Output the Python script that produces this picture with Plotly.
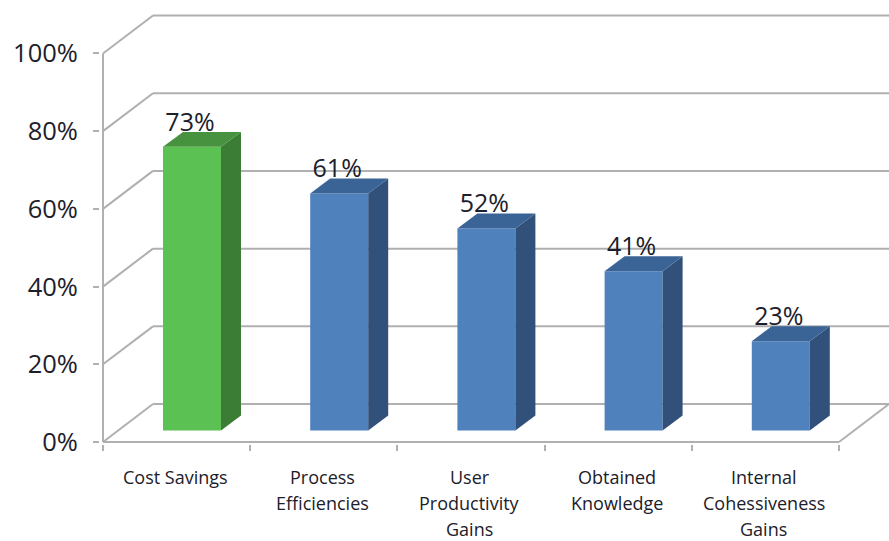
import plotly.graph_objects as go

categories = ["Cost Savings", "Process<br>Efficiencies", "User<br>Productivity<br>Gains",
              "Obtained<br>Knowledge", "Internal<br>Cohessiveness<br>Gains"]
values = [73, 61, 52, 41, 23]
y_ticks = [0, 20, 40, 60, 80, 100]
front_colors = ["#5AC152", "#4F81BD", "#4F81BD", "#4F81BD", "#4F81BD"]
side_colors = ["#3C7D35", "#31517A", "#31517A", "#31517A", "#31517A"]
top_colors = ["#47923F", "#3B6496", "#3B6496", "#3B6496", "#3B6496"]

PX_X = 147.2   # pixels per category
PX_Y = 3.89    # pixels per percent
WALL_X, WALL_Y = 50 / PX_X, 38 / PX_Y
BAR_GAP, BAR_W = 60 / PX_X, 58 / PX_X
BAR_DX, BAR_DY = 20 / PX_X, 15 / PX_Y
LIFT = 11.5 / PX_Y
GRID = "#B0B0B0"
TEXT = "#1C202A"
FONT = "Open Sans"
N = len(categories)
X_MAX = 786 / PX_X

fig = go.Figure()

# Walls: gridlines and axis lines, beneath the bars
line = dict(color=GRID, width=2)
shapes = []
for t in y_ticks:
    shapes.append(dict(type="line", layer="below", xref="x", yref="y", x0=0, y0=t,
                       x1=WALL_X, y1=t + WALL_Y, line=line))
    shapes.append(dict(type="line", layer="below", xref="x", yref="y", x0=WALL_X, y0=t + WALL_Y,
                       x1=X_MAX, y1=t + WALL_Y, line=line))
shapes.append(dict(type="line", layer="below", xref="x", yref="y", x0=0, y0=0, x1=0, y1=100, line=line))
shapes.append(dict(type="line", layer="below", xref="x", yref="y", x0=0, y0=0, x1=N, y1=0, line=line))
shapes.append(dict(type="line", layer="below", xref="x", yref="y", x0=N, y0=0,
                   x1=N + WALL_X, y1=WALL_Y, line=line))

# Bar fronts
fig.add_trace(go.Bar(
    x=[i + BAR_GAP + BAR_W / 2 for i in range(N)], y=values, base=LIFT, width=BAR_W,
    marker=dict(color=front_colors, line=dict(width=0)), hoverinfo="skip", showlegend=False))

# Bar sides and tops
for i, v in enumerate(values):
    x0, x1 = i + BAR_GAP, i + BAR_GAP + BAR_W
    y0, y1 = LIFT, LIFT + v
    fig.add_trace(go.Scatter(
        x=[x1, x1 + BAR_DX, x1 + BAR_DX, x1, x1], y=[y0, y0 + BAR_DY, y1 + BAR_DY, y1, y0],
        mode="lines", fill="toself", fillcolor=side_colors[i], line=dict(width=0),
        hoverinfo="skip", showlegend=False))
    fig.add_trace(go.Scatter(
        x=[x0, x1, x1 + BAR_DX, x0 + BAR_DX, x0], y=[y1, y1, y1 + BAR_DY, y1 + BAR_DY, y1],
        mode="lines", fill="toself", fillcolor=top_colors[i], line=dict(width=0),
        hoverinfo="skip", showlegend=False))

# Value labels
fig.add_trace(go.Scatter(
    x=[i + BAR_GAP + BAR_W / 2 - 2 / PX_X for i in range(N)],
    y=[v + LIFT + BAR_DY - 5 / PX_Y for v in values],
    mode="text", text=[f"{v}%" for v in values], textposition="top center",
    textfont=dict(family=FONT, size=25, color=TEXT), hoverinfo="skip", showlegend=False,
    cliponaxis=False))

# Category labels, one annotation per line for the wide line spacing
annotations = []
for i, c in enumerate(categories):
    for k, part in enumerate(c.split("<br>")):
        annotations.append(dict(
            x=i + 0.49, y=0, xref="x", yref="y", text=part, showarrow=False,
            xanchor="center", yanchor="middle", yshift=-(34.5 + 26 * k),
            font=dict(family=FONT, size=18, color=TEXT)))

fig.update_layout(
    width=889, height=541, margin=dict(l=100, r=0, t=12.5, b=97),
    paper_bgcolor="white", plot_bgcolor="white", showlegend=False,
    shapes=shapes, annotations=annotations,
    xaxis=dict(range=[-3 / PX_X, X_MAX], tickvals=list(range(N + 1)), ticktext=[""] * (N + 1),
               ticks="outside", ticklen=6, tickwidth=2, tickcolor=GRID,
               showgrid=False, zeroline=False, showline=False),
    yaxis=dict(range=[-2 / PX_Y, 429.5 / PX_Y], tickvals=y_ticks,
               ticktext=[f"{t}%" for t in y_ticks],
               ticks="outside", ticklen=6, tickwidth=2, tickcolor=GRID, ticklabelstandoff=10,
               tickfont=dict(family=FONT, size=25.5, color=TEXT),
               showgrid=False, zeroline=False, showline=False),
)

fig.write_html("out.html", config=dict(displayModeBar=False),
               post_script="document.body.style.margin='0';document.body.style.overflow='hidden';")
